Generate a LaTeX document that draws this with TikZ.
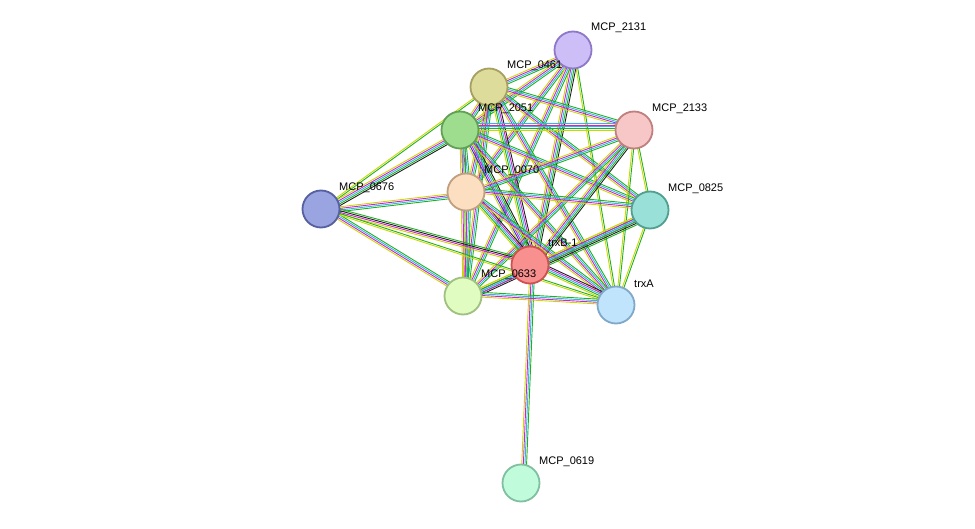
\documentclass[tikz,border=0pt]{standalone}
\usepackage{fontspec}
\setmainfont{Liberation Sans}
\usetikzlibrary{calc}
\definecolor{eY}{HTML}{C8D800}\definecolor{eK}{HTML}{202020}\definecolor{eM}{HTML}{D020D0}
\definecolor{eC}{HTML}{30B8E0}\definecolor{eG}{HTML}{20B020}\definecolor{eB}{HTML}{3030E0}
\newcommand{\edg}[3]{\edef\lst{#3}\foreach \c [count=\i] in \lst {\pgfmathsetmacro{\o}{(\i-1)*1.6}
 \draw[draw=\c,line width=0.9pt] ($(#1)!\o pt!90:(#2)$) -- ($(#2)!\o pt!-90:(#1)$);}}
\tikzset{nd/.style={circle,minimum size=37pt,inner sep=0pt,line width=1.8pt},
lb/.style={anchor=west,font=\fontsize{11}{13}\selectfont,inner sep=0pt}}
\begin{document}
\begin{tikzpicture}[x=1pt,y=-1pt]
\useasboundingbox (0,0) rectangle (975,529);
\coordinate (a) at (573,50);\coordinate (b) at (489,87);\coordinate (c) at (460,130);
\coordinate (d) at (634,130);\coordinate (e) at (466,192);\coordinate (f) at (321,209);
\coordinate (g) at (650,210);\coordinate (t) at (530,265);\coordinate (h) at (463,296);
\coordinate (x) at (616,305);\coordinate (m) at (521,483);
\def\F{eY,eG,eC,eM,eK}\def\T{eY,eG}\def\G{eY,eM,eC,eG}
\edg{a}{b}{\G}\edg{a}{c}{\G}\edg{a}{e}{\G}\edg{a}{t}{eY,eM,eC,eG,eK}\edg{a}{h}{\G}\edg{a}{x}{\T}
\edg{b}{c}{\G}\edg{b}{d}{\G}\edg{b}{e}{\G}\edg{b}{f}{\T}\edg{b}{g}{\G}\edg{b}{t}{\F}\edg{b}{h}{\G}\edg{b}{x}{\G}
\edg{c}{d}{eY,eG,eC,eM,eC}\edg{c}{e}{\G}\edg{c}{f}{\G,eK}\edg{c}{g}{\G}\edg{c}{t}{eY,eB,eM,eC,eG,eK}\edg{c}{h}{\G}\edg{c}{x}{\G}
\edg{d}{e}{\G}\edg{d}{t}{\G,eK}\edg{d}{h}{\G}\edg{d}{g}{\T}\edg{d}{x}{\T}
\edg{e}{f}{\G}\edg{e}{g}{\G}\edg{e}{t}{\F}\edg{e}{h}{\G}\edg{e}{x}{\G}
\edg{f}{t}{eY,eM,eK,eG}\edg{f}{h}{\G}\edg{f}{x}{\T}
\edg{g}{t}{\F,eG}\edg{g}{h}{\G}\edg{g}{x}{\T}
\edg{t}{h}{\F}\edg{t}{x}{\F}\edg{t}{m}{eY,eM,eC,eG}
\edg{h}{x}{\G}
\node[nd,fill={rgb,255:red,205;green,190;blue,247},draw={rgb,255:red,144;green,120;blue,200}] at (a) {};
\node[nd,fill={rgb,255:red,222;green,220;blue,154},draw={rgb,255:red,168;green,160;blue,96}] at (b) {};
\node[nd,fill={rgb,255:red,158;green,221;blue,142},draw={rgb,255:red,98;green,160;blue,88}] at (c) {};
\node[nd,fill={rgb,255:red,247;green,199;blue,199},draw={rgb,255:red,192;green,128;blue,128}] at (d) {};
\node[nd,fill={rgb,255:red,252;green,223;blue,192},draw={rgb,255:red,192;green,160;blue,128}] at (e) {};
\node[nd,fill={rgb,255:red,154;green,164;blue,224},draw={rgb,255:red,85;green,96;blue,160}] at (f) {};
\node[nd,fill={rgb,255:red,152;green,224;blue,216},draw={rgb,255:red,80;green,160;blue,144}] at (g) {};
\node[nd,fill={rgb,255:red,248;green,144;blue,144},draw={rgb,255:red,208;green,80;blue,80}] at (t) {};
\node[nd,fill={rgb,255:red,224;green,252;blue,192},draw={rgb,255:red,160;green,192;blue,128}] at (h) {};
\node[nd,fill={rgb,255:red,192;green,228;blue,252},draw={rgb,255:red,128;green,168;blue,200}] at (x) {};
\node[nd,fill={rgb,255:red,192;green,252;blue,220},draw={rgb,255:red,128;green,192;blue,160}] at (m) {};
\node[lb] at ($(a)+(18,-22)$) {MCP\_2131};
\node[lb] at ($(b)+(18,-21)$) {MCP\_0461};
\node[lb] at ($(c)+(18,-21)$) {MCP\_2051};
\node[lb] at ($(d)+(18,-21)$) {MCP\_2133};
\node[lb] at ($(e)+(18,-21)$) {MCP\_0070};
\node[lb] at ($(f)+(18,-21)$) {MCP\_0676};
\node[lb] at ($(g)+(18,-21)$) {MCP\_0825};
\node[lb] at ($(t)+(18,-22)$) {trxB-1};
\node[lb] at ($(h)+(18,-21)$) {MCP\_0633};
\node[lb] at ($(x)+(18,-21)$) {trxA};
\node[lb] at ($(m)+(18,-21)$) {MCP\_0619};
\end{tikzpicture}
\end{document}
